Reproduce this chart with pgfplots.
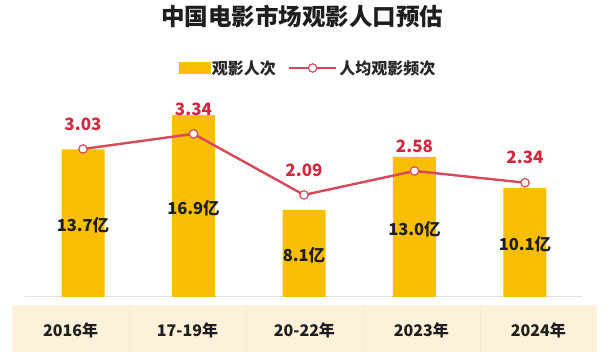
\documentclass[border=0pt]{standalone}
\usepackage{pgfplots}
\pgfplotsset{compat=1.18}
\usepackage{fontspec}
\setmainfont{Noto Sans CJK SC}
\definecolor{barc}{RGB}{250,190,0}
\definecolor{linec}{RGB}{215,72,88}
\definecolor{labc}{RGB}{208,40,62}
\definecolor{bandc}{RGB}{253,241,217}
\definecolor{sepc}{RGB}{247,233,205}
\definecolor{txt}{RGB}{30,30,30}
\begin{document}
\begin{tikzpicture}
\path[use as bounding box] (0pt,0pt) rectangle (609pt,352pt);
\fill[bandc] (12pt,0pt) rectangle (597pt,47pt);
\foreach \x in {129,246,363,480} \draw[sepc, line width=0.8pt] (\x pt,0pt) -- (\x pt,47pt);
\node[font=\fontsize{23.5}{25}\selectfont\bfseries, text=txt] at (302pt,335pt) {中国电影市场观影人口预估};
\begin{axis}[at={(25pt,55pt)}, anchor=south west,
  scale only axis, width=557pt, height=215.4pt,
  xmin=-0.525, xmax=4.516, ymin=0, ymax=20,
  axis x line=bottom, axis y line=none,
  x axis line style={draw=black!12, line width=1pt, -},
  xtick={-0.113,0.946,2.004,3.063,4.122},
  xticklabels={2016年,17-19年,20-22年,2023年,2024年},
  major tick length=0pt,
  xticklabel style={anchor=center, yshift=-33pt, font=\fontsize{16}{18}\selectfont\bfseries, text=txt},
  ytick=\empty, clip=false]
\addplot[ybar, bar width=43pt, fill=barc, draw=none] coordinates {(0,13.7) (1,16.9) (2,8.1) (3,13.0) (4,10.1)};
\addplot[draw=none, mark=none, nodes near coords, point meta=explicit symbolic,
  every node near coord/.style={anchor=center, yshift=-2pt, font=\fontsize{16.5}{18}\selectfont\bfseries, text=txt}]
  table[x=x, y expr=\thisrow{v}/2, meta=lab] {
x v lab
0 13.7 13.7亿
1 16.9 16.9亿
2 8.1 8.1亿
3 13.0 13.0亿
4 10.1 10.1亿
};
\end{axis}
\begin{axis}[at={(25pt,55pt)}, anchor=south west,
  scale only axis, width=557pt, height=215.4pt,
  xmin=-0.525, xmax=4.516, ymin=0, ymax=4.41,
  axis lines=none, xtick=\empty, ytick=\empty, clip=false,
  legend style={at={(0.508,1.063)}, anchor=center, draw=none, fill=none,
    legend columns=2, font=\fontsize{16}{18}\selectfont\bfseries, text=black!85,
    /tikz/every even column/.append style={column sep=10pt}}]
\addlegendimage{legend image code/.code={\fill[barc] (0pt,-5.5pt) rectangle (31pt,5.5pt);}}
\addlegendentry{观影人次}
\addplot[linec, line width=2.4pt, mark=*, mark size=4.2pt,
  mark options={fill=white, draw=linec, line width=1.2pt},
  nodes near coords, point meta=explicit symbolic,
  every node near coord/.style={anchor=center, yshift=25pt, font=\fontsize{17}{19}\selectfont\bfseries, text=labc},
  legend image code/.code={\draw[linec, line width=2.4pt] (0pt,0pt) -- (47pt,0pt); \draw[linec, line width=1.2pt, fill=white] (23.5pt,0pt) circle (4.2pt);}]
  coordinates {(0,3.03) [3.03] (1,3.34) [3.34] (2,2.09) [2.09] (3,2.58) [2.58] (4,2.34) [2.34]};
\addlegendentry{人均观影频次}
\end{axis}
\end{tikzpicture}
\end{document}
